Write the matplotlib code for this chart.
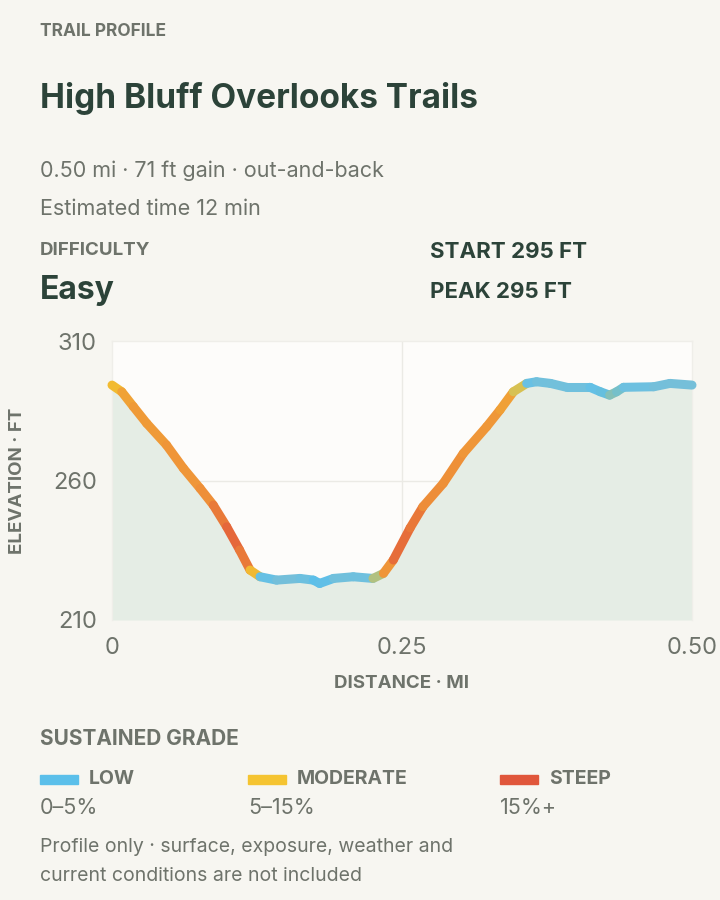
import numpy as np
import matplotlib.pyplot as plt
from matplotlib.collections import LineCollection
from matplotlib.colors import LinearSegmentedColormap
from matplotlib.patches import Rectangle

plt.rcParams['font.family'] = ['Inter', 'DejaVu Sans']

# elevation profile
dist_mi = [0, 0.0084, 0.0184, 0.0299, 0.047, 0.0615, 0.0759, 0.0873, 0.0989, 0.110,
           0.119, 0.1276, 0.1419, 0.162, 0.1736, 0.179, 0.191, 0.208, 0.225, 0.234,
           0.2425, 0.257, 0.268, 0.2856, 0.3028, 0.323, 0.3345, 0.346, 0.3575, 0.366,
           0.378, 0.392, 0.412, 0.421, 0.429, 0.435, 0.441, 0.467, 0.481, 0.500]
elev_ft = [294.2, 291.8, 286.5, 280.5, 272.7, 264.4, 257.2, 251.2, 243.4, 235.1,
           227.9, 225.5, 224.3, 224.9, 224.3, 223.1, 224.9, 225.5, 224.9, 226.7,
           231.5, 243.0, 250.6, 259.0, 269.7, 279.3, 285.3, 291.8, 294.8, 295.4,
           294.8, 293.4, 293.4, 291.8, 290.6, 291.8, 293.4, 293.6, 294.8, 294.2]

x_ticks = [0, 0.25, 0.50]
x_labels = ['0', '0.25', '0.50']
y_ticks = [210, 260, 310]

grade_names = ['LOW', 'MODERATE', 'STEEP']
grade_ranges = ['0–5%', '5–15%', '15%+']
grade_colors = ['#5bbfea', '#f5c431', '#e0563b']

BG = '#f7f6f1'
DARK = '#2c4339'
GREY = '#6e736b'


def txt(px, py, s, size, bold=False, color=GREY):
    # px, py: pixel position of the baseline start, measured from top-left
    fig.text(px/720, 1-py/900, s, fontsize=size, color=color,
             fontweight='bold' if bold else 'normal', va='baseline')


fig = plt.figure(figsize=(7.2, 9), dpi=100, facecolor=BG)

# header texts
txt(40, 36, 'TRAIL PROFILE', 12.5, True)
txt(40, 108, 'High Bluff Overlooks Trails', 24, True, DARK)
txt(40, 177, '0.50 mi · 71 ft gain · out-and-back', 15.5, False)
txt(40, 215, 'Estimated time 12 min', 15.5, False)
txt(40, 255, 'DIFFICULTY', 13.5, True)
txt(40, 299, 'Easy', 23, True, DARK)
txt(430, 258, 'START 295 FT', 16, True, DARK)
txt(430, 298, 'PEAK 295 FT', 16, True, DARK)

ax = fig.add_axes([112/720, 1-620/900, 580/720, 279/900])
ax.set_facecolor('#fdfcfa')
ax.set_xlim(0, 0.5)
ax.set_ylim(210, 310)

x = np.array(dist_mi)
y = np.array(elev_ft)
ax.fill_between(x, y, 210, color='#e5ede5', lw=0, zorder=1)

# grade per segment, smoothed a little so colours blend
seg_grade = np.abs(np.diff(y)) / (np.diff(x) * 5280)
smooth = np.convolve(np.pad(seg_grade, 1, mode='edge'), [0.25, 0.5, 0.25], mode='valid')
cmap = LinearSegmentedColormap.from_list('grade', [
    (0.0, '#7cbfd3'), (0.02 / 0.16, '#6ac0e2'), (0.03 / 0.16, '#5bbfea'),
    (0.06 / 0.16, '#f2c230'), (0.10 / 0.16, '#ef9538'), (0.145 / 0.16, '#e4623a'),
    (1.0, '#e0563b')])
pts = np.column_stack([x, y]).reshape(-1, 1, 2)
segs = np.concatenate([pts[:-1], pts[1:]], axis=1)
lc = LineCollection(segs, colors=cmap(np.clip(smooth / 0.16, 0, 1)), linewidths=6.5,
                    capstyle='round', joinstyle='round', zorder=3)
lc.set_clip_on(False)
ax.add_collection(lc)

ax.axvline(0.25, color='#ebeae5', lw=1, zorder=0.5)
ax.axhline(260, color='#ebeae5', lw=1, zorder=0.5)
for s in ax.spines.values():
    s.set_color('#efeee9')
    s.set_linewidth(1)
ax.spines['bottom'].set_visible(False)

ax.set_xticks(x_ticks)
ax.set_xticklabels(x_labels)
ax.set_yticks(y_ticks)
ax.tick_params(axis='both', length=0, labelsize=17, labelcolor=GREY)
ax.tick_params(axis='x', pad=12)
ax.tick_params(axis='y', pad=11)
ax.set_xlabel('DISTANCE · MI', fontsize=13.5, fontweight='bold', color=GREY, va='center')
ax.set_ylabel('ELEVATION · FT', fontsize=13.5, fontweight='bold', color=GREY, va='center')
ax.xaxis.set_label_coords(0.5, (620-684)/279)
ax.yaxis.set_label_coords((18-112)/580, 0.5)

# legend
txt(40, 745, 'SUSTAINED GRADE', 15, True)
legend_x = [40, 248, 500]
for lx, name, rng, col in zip(legend_x, grade_names, grade_ranges, grade_colors):
    fig.patches.append(Rectangle((lx/720, 1-784/900), 38/720, 9/900, color=col,
                                 transform=fig.transFigure, figure=fig))
    txt(lx+49, 784, name, 14, True)
    txt(lx, 814, rng, 15.5, False)

txt(40, 852, 'Profile only · surface, exposure, weather and', 14, False)
txt(40, 881, 'current conditions are not included', 14, False)

fig.savefig('out.png', dpi=100, facecolor=BG)
